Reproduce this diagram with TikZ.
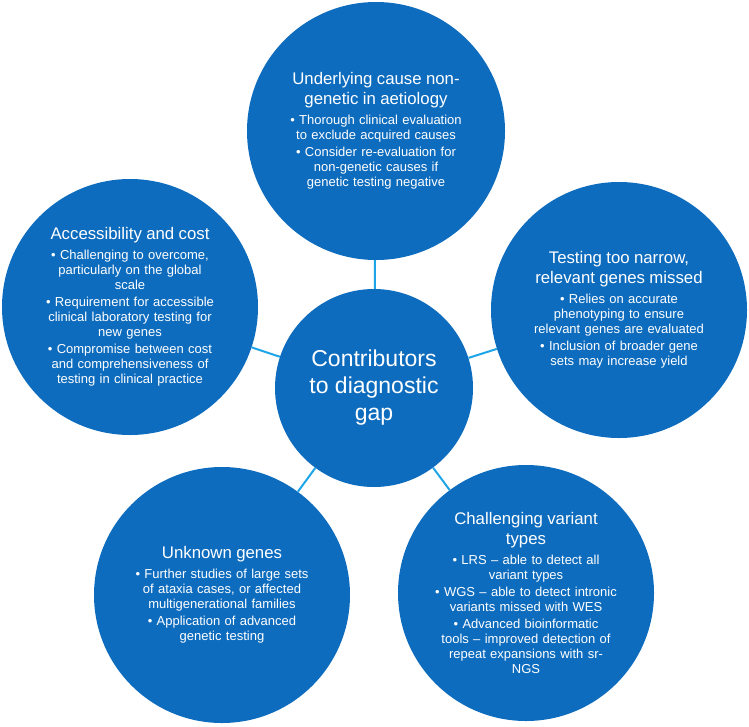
\documentclass[tikz,border=0pt]{standalone}
\usepackage{fontspec}
\setmainfont{Liberation Sans}
\setlength{\parindent}{0pt}
\setlength{\parskip}{0pt}
\definecolor{circblue}{RGB}{14,108,190}
\definecolor{linkblue}{RGB}{30,165,232}
\newcommand{\titlef}{\fontsize{16.8}{20}\selectfont}
\newcommand{\bulf}{\fontsize{13}{15}\selectfont}
\begin{document}
\begin{tikzpicture}[x=1pt,y=-1pt,
  bubble/.style={circle,fill=circblue,draw=none,inner sep=0pt,minimum size=256pt},
  hub/.style={circle,fill=circblue,draw=none,inner sep=0pt,minimum size=198pt},
  bubtext/.style={text width=240pt,align=center,text=white,font=\bulf,inner sep=0pt},
  link/.style={draw=linkblue,line width=2pt}]
\useasboundingbox (0,0) rectangle (749,726);

\node[hub] (c) at (374,388) {};
\node[bubble,minimum size=258pt] (top) at (376,131) {};
\node[bubble] (lft) at (130,307) {};
\node[bubble] (rgt) at (619,310) {};
\node[bubble] (bl) at (222,595) {};
\node[bubble] (br) at (526,593) {};

\draw[link] (c) -- (top);
\draw[link] (c) -- (lft);
\draw[link] (c) -- (rgt);
\draw[link] (c) -- (bl);
\draw[link] (c) -- (br);

\node[text=white,align=center,font=\fontsize{23}{27}\selectfont] (ct) at (c.center) {Contributors\\to diagnostic\\gap};

\node[bubtext] (toptext) at (top.center) {{\titlef Underlying cause non-\\genetic in aetiology\par}\vspace{5pt}
• Thorough clinical evaluation\\to exclude acquired causes\par\vspace{2pt}
• Consider re-evaluation for\\non-genetic causes if\\genetic testing negative\par};

\node[bubtext] (lfttext) at (lft.center) {{\titlef Accessibility and cost\par}\vspace{5pt}
• Challenging to overcome,\\particularly on the global\\scale\par\vspace{2pt}
• Requirement for accessible\\clinical laboratory testing for\\new genes\par\vspace{2pt}
• Compromise between cost\\and comprehensiveness of\\testing in clinical practice\par};

\node[bubtext] (rgttext) at (rgt.center) {{\titlef Testing too narrow,\\relevant genes missed\par}\vspace{5pt}
• Relies on accurate\\phenotyping to ensure\\relevant genes are evaluated\par\vspace{2pt}
• Inclusion of broader gene\\sets may increase yield\par};

\node[bubtext] (bltext) at (bl.center) {{\titlef Unknown genes\par}\vspace{5pt}
• Further studies of large sets\\of ataxia cases, or affected\\multigenerational families\par\vspace{2pt}
• Application of advanced\\genetic testing\par};

\node[bubtext] (brtext) at (br.center) {{\titlef Challenging variant\\types\par}\vspace{5pt}
• LRS – able to detect all\\variant types\par\vspace{2pt}
• WGS – able to detect intronic\\variants missed with WES\par\vspace{2pt}
• Advanced bioinformatic\\tools – improved detection of\\repeat expansions with sr-\\NGS\par};
\end{tikzpicture}
\end{document}
